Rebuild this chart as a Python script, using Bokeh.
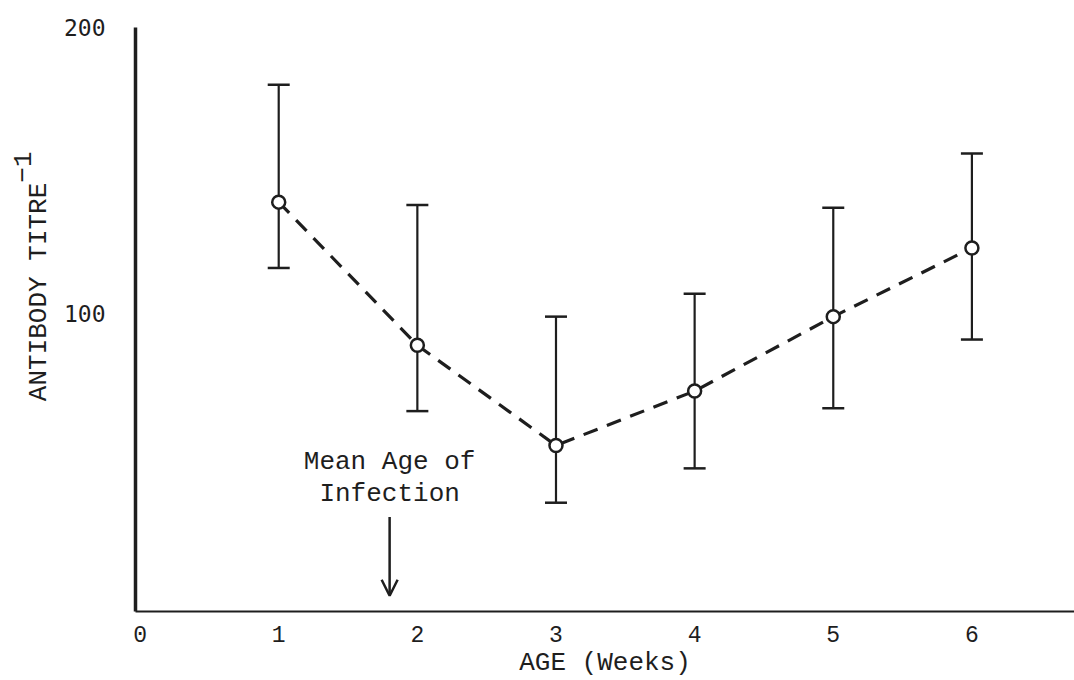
from bokeh.plotting import figure
from bokeh.models import (ColumnDataSource, Whisker, TeeHead, Arrow, OpenHead,
                          Title, FixedTicker, Range1d)
from bokeh.core.properties import value
from bokeh.embed import file_html
from bokeh.resources import INLINE

# ---- data ----
weeks = [1, 2, 3, 4, 5, 6]
titre_mean = [139, 89, 54, 73, 99, 123]
titre_upper = [180, 138, 99, 107, 137, 156]
titre_lower = [116, 66, 34, 46, 67, 91]
x_ticks = [0, 1, 2, 3, 4, 5, 6]
y_ticks = [100, 200]
infection_age = 1.8
arrow_top, arrow_tip = 29, 1.5
note_lines = ["Mean Age of", "Infection"]
note_y = [48.2, 37.1]
y_label = "ANTIBODY TITRE"
y_label_power = "\u22121"

FONT = "Liberation Mono"
INK = "#1e1e1e"
NBSP = "\u00a0"

src = ColumnDataSource(dict(x=weeks, y=titre_mean, upper=titre_upper, lower=titre_lower))

p = figure(width=1074, height=680, output_backend="svg", toolbar_location=None,
           x_range=Range1d(-0.033, 6.74), y_range=Range1d(-4, 200),
           min_border_left=135, min_border_right=0, min_border_top=27, min_border_bottom=60)
p.outline_line_color = None
p.grid.visible = False
p.background_fill_color = "white"
p.border_fill_color = "white"

# axes
p.xaxis.ticker = FixedTicker(ticks=x_ticks)
p.yaxis.ticker = FixedTicker(ticks=y_ticks)
for ax in (p.xaxis, p.yaxis):
    ax.major_tick_line_color = None
    ax.minor_tick_line_color = None
    ax.axis_line_color = INK
    ax.major_label_text_color = INK
    ax.axis_label_text_color = INK
    ax.axis_label_text_font_style = "normal"
p.yaxis.axis_line_width = 3.5
p.xaxis.axis_line_width = 2
p.xaxis.major_label_text_font = FONT
p.xaxis.major_label_text_font_size = "23px"
p.xaxis.major_label_standoff = 8
p.xaxis.axis_label = "AGE (Weeks)"
p.xaxis.axis_label_text_font = FONT
p.xaxis.axis_label_text_font_size = "26px"
p.xaxis.axis_label_standoff = 3
p.yaxis.major_label_text_font = "DejaVu Sans Mono"
p.yaxis.major_label_text_font_size = "23px"
p.yaxis.major_label_standoff = 24

# y label set towards the top; the power -1 sits on a raised line just past its end
line_power = NBSP * len(y_label) + y_label_power
line_main = y_label + NBSP * len(y_label_power)
p.add_layout(Title(text=line_power + "\n" + line_main, align="right", offset=124, standoff=12,
                   text_font=FONT, text_font_size="26px", text_font_style="normal",
                   text_line_height=0.52, text_color=INK), "left")

# error bars
p.add_layout(Whisker(source=src, base="x", upper="upper", lower="lower",
                     line_color=INK, line_width=2.2,
                     upper_head=TeeHead(size=22, line_width=2.5, line_color=INK),
                     lower_head=TeeHead(size=22, line_width=2.5, line_color=INK)))

# dashed mean line and circles
p.line("x", "y", source=src, line_color=INK, line_width=3.2, line_dash="15 10")
p.scatter("x", "y", source=src, size=13, marker="circle", fill_color="white",
          line_color=INK, line_width=2.5)

# infection annotation
p.add_layout(Arrow(x_start=infection_age, y_start=arrow_top, x_end=infection_age, y_end=arrow_tip,
                   line_color=INK, line_width=2.5,
                   end=OpenHead(size=16, line_width=2.5, line_color=INK)))
p.text(x=[infection_age] * 2, y=note_y, text=note_lines, text_font=value(FONT),
       text_font_size="26px", text_align="center", text_baseline="middle", text_color=INK)

open("out.html", "w").write(file_html(p, INLINE))
